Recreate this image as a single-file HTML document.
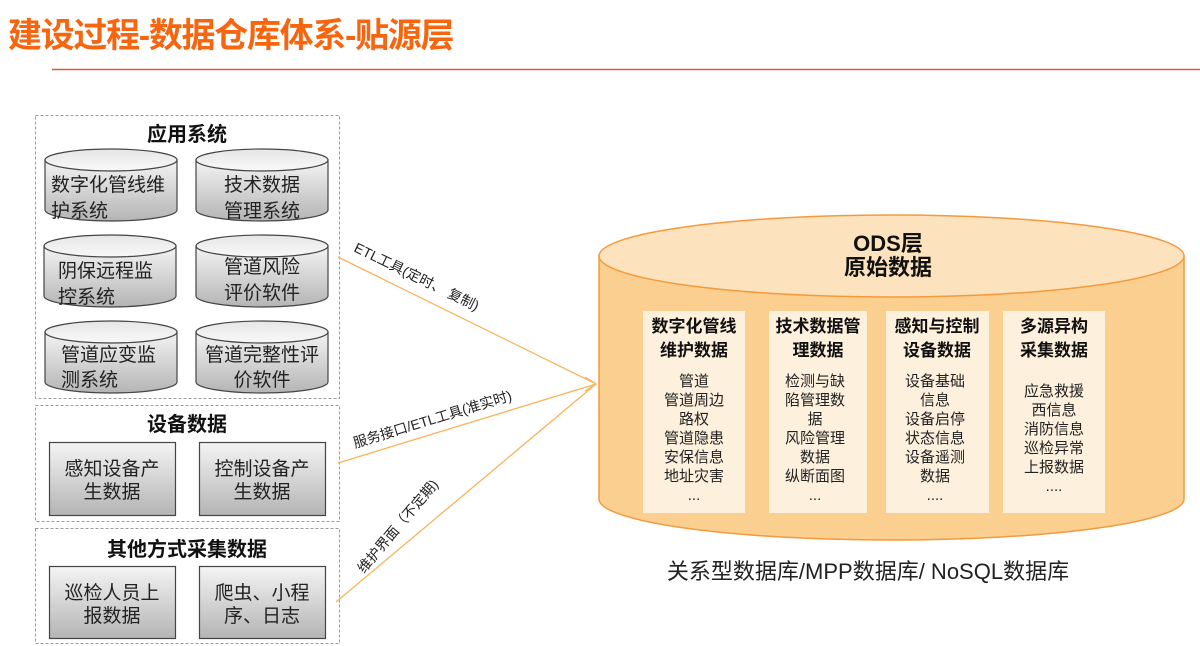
<!DOCTYPE html>
<html><head><meta charset="utf-8"><style>
html,body{margin:0;padding:0;background:#fff;}
svg{display:block;}
text{font-family:"Liberation Sans","Noto Sans CJK SC",sans-serif;}
</style></head><body>
<svg width="1200" height="646" viewBox="0 0 1200 646" xmlns="http://www.w3.org/2000/svg">
<defs>
<linearGradient id="g" x1="0" y1="0" x2="0" y2="1">
<stop offset="0" stop-color="#f4f4f4"/><stop offset="1" stop-color="#b4b4b4"/></linearGradient>
<linearGradient id="gt" x1="0" y1="0" x2="0" y2="1">
<stop offset="0" stop-color="#e6e6e6"/><stop offset="1" stop-color="#f8f8f8"/></linearGradient>
</defs>
<text x="8" y="47" font-size="34" font-weight="bold" fill="#f7660f" letter-spacing="-1.3">建设过程-数据仓库体系-贴源层</text>
<line x1="52" y1="69.5" x2="1200" y2="69.5" stroke="#d9534f" stroke-width="1.5"/>

<g fill="none" stroke="#9a9a9a" stroke-dasharray="3,2">
<rect x="35.5" y="115.5" width="304" height="283"/>
<rect x="35.5" y="405.5" width="304" height="116"/>
<rect x="35.5" y="528.5" width="304" height="115"/>
</g>
<g font-size="20" font-weight="bold" fill="#111" text-anchor="middle">
<text x="187" y="141">应用系统</text>
<text x="187" y="431">设备数据</text>
<text x="187" y="556">其他方式采集数据</text>
</g>

<g stroke="#444" stroke-width="1.2">
<path d="M45 160 v50 a66 11 0 0 0 132 0 v-50 z" fill="url(#g)"/><ellipse cx="111" cy="160" rx="66" ry="11" fill="url(#gt)"/>
<path d="M196 160 v50 a66 11 0 0 0 132 0 v-50 z" fill="url(#g)"/><ellipse cx="262" cy="160" rx="66" ry="11" fill="url(#gt)"/>
<path d="M44 246 v50 a66 11 0 0 0 132 0 v-50 z" fill="url(#g)"/><ellipse cx="110" cy="246" rx="66" ry="11" fill="url(#gt)"/>
<path d="M196 246 v50 a66 11 0 0 0 132 0 v-50 z" fill="url(#g)"/><ellipse cx="262" cy="246" rx="66" ry="11" fill="url(#gt)"/>
<path d="M45 332 v50 a66 11 0 0 0 132 0 v-50 z" fill="url(#g)"/><ellipse cx="111" cy="332" rx="66" ry="11" fill="url(#gt)"/>
<path d="M196 332 v50 a66 11 0 0 0 132 0 v-50 z" fill="url(#g)"/><ellipse cx="262" cy="332" rx="66" ry="11" fill="url(#gt)"/>
<rect x="49.5" y="442.5" width="126" height="73" fill="url(#g)"/>
<rect x="199.5" y="442.5" width="126" height="73" fill="url(#g)"/>
<rect x="49.5" y="566.5" width="126" height="72" fill="url(#g)"/>
<rect x="199.5" y="566.5" width="126" height="72" fill="url(#g)"/>
</g>
<g font-size="19" fill="#222">
<text x="51" y="191">数字化管线维</text><text x="51" y="217">护系统</text>
<text x="262" y="191" text-anchor="middle">技术数据</text><text x="262" y="217" text-anchor="middle">管理系统</text>
<text x="58" y="277">阴保远程监</text><text x="58" y="303">控系统</text>
<text x="262" y="273" text-anchor="middle">管道风险</text><text x="262" y="299" text-anchor="middle">评价软件</text>
<text x="61" y="361">管道应变监</text><text x="61" y="386">测系统</text>
<text x="262" y="361" text-anchor="middle">管道完整性评</text><text x="262" y="386" text-anchor="middle">价软件</text>
<g text-anchor="middle">
<text x="112" y="475">感知设备产</text><text x="112" y="498">生数据</text>
<text x="262" y="475">控制设备产</text><text x="262" y="498">生数据</text>
<text x="112" y="599">巡检人员上</text><text x="112" y="622">报数据</text>
<text x="262" y="599">爬虫、小程</text><text x="262" y="622">序、日志</text>
</g></g>

<g stroke="#f8b35c" stroke-width="1.3" fill="none">
<line x1="338" y1="257" x2="596" y2="384"/>
<line x1="338" y1="463" x2="596" y2="384"/>
<line x1="336" y1="602" x2="596" y2="384"/>
<path d="M585 377 L596 384 L585 391"/>
</g>
<g font-size="14" fill="#222">
<text transform="translate(353,251) rotate(26)">ETL工具(定时、  复制)</text>
<text transform="translate(355,448) rotate(-17)">服务接口/ETL工具(准实时)</text>
<text transform="translate(364,574) rotate(-50)">维护界面（不定期)</text>
</g>

<path d="M599 256 V499 A292.5 41 0 0 0 1184 499 V256 Z" fill="#fbcf8f" stroke="#f49a3c" stroke-width="1.5"/>
<ellipse cx="891.5" cy="256" rx="292.5" ry="41" fill="#fde3bd" stroke="#f49a3c" stroke-width="1.5"/>
<g font-size="22" font-weight="bold" fill="#111" text-anchor="middle">
<text x="888" y="251">ODS层</text><text x="888" y="275">原始数据</text>
</g>
<g fill="#fdf0dd">
<rect x="643" y="311" width="102" height="202"/>
<rect x="769" y="311" width="98" height="202"/>
<rect x="886" y="311" width="103" height="202"/>
<rect x="1003" y="311" width="102" height="202"/>
</g>
<g font-size="17" font-weight="bold" fill="#111" text-anchor="middle">
<text x="694" y="332">数字化管线</text><text x="694" y="356">维护数据</text>
<text x="818" y="332">技术数据管</text><text x="818" y="356">理数据</text>
<text x="937" y="332">感知与控制</text><text x="937" y="356">设备数据</text>
<text x="1054" y="332">多源异构</text><text x="1054" y="356">采集数据</text>
</g>
<g font-size="15" fill="#222" text-anchor="middle">
<text x="694" y="386">管道</text><text x="694" y="405">管道周边</text><text x="694" y="424">路权</text><text x="694" y="443">管道隐患</text><text x="694" y="462">安保信息</text><text x="694" y="481">地址灾害</text><text x="694" y="500">...</text>
<text x="815" y="386">检测与缺</text><text x="815" y="405">陷管理数</text><text x="815" y="424">据</text><text x="815" y="443">风险管理</text><text x="815" y="462">数据</text><text x="815" y="481">纵断面图</text><text x="815" y="500">...</text>
<text x="935" y="386">设备基础</text><text x="935" y="405">信息</text><text x="935" y="424">设备启停</text><text x="935" y="443">状态信息</text><text x="935" y="462">设备遥测</text><text x="935" y="481">数据</text><text x="935" y="500">....</text>
<text x="1054" y="396">应急救援</text><text x="1054" y="415">西信息</text><text x="1054" y="434">消防信息</text><text x="1054" y="453">巡检异常</text><text x="1054" y="472">上报数据</text><text x="1054" y="491">....</text>
</g>
<text x="868" y="579" font-size="22" fill="#222" text-anchor="middle">关系型数据库/MPP数据库/ NoSQL数据库</text>
</svg>
</body></html>
